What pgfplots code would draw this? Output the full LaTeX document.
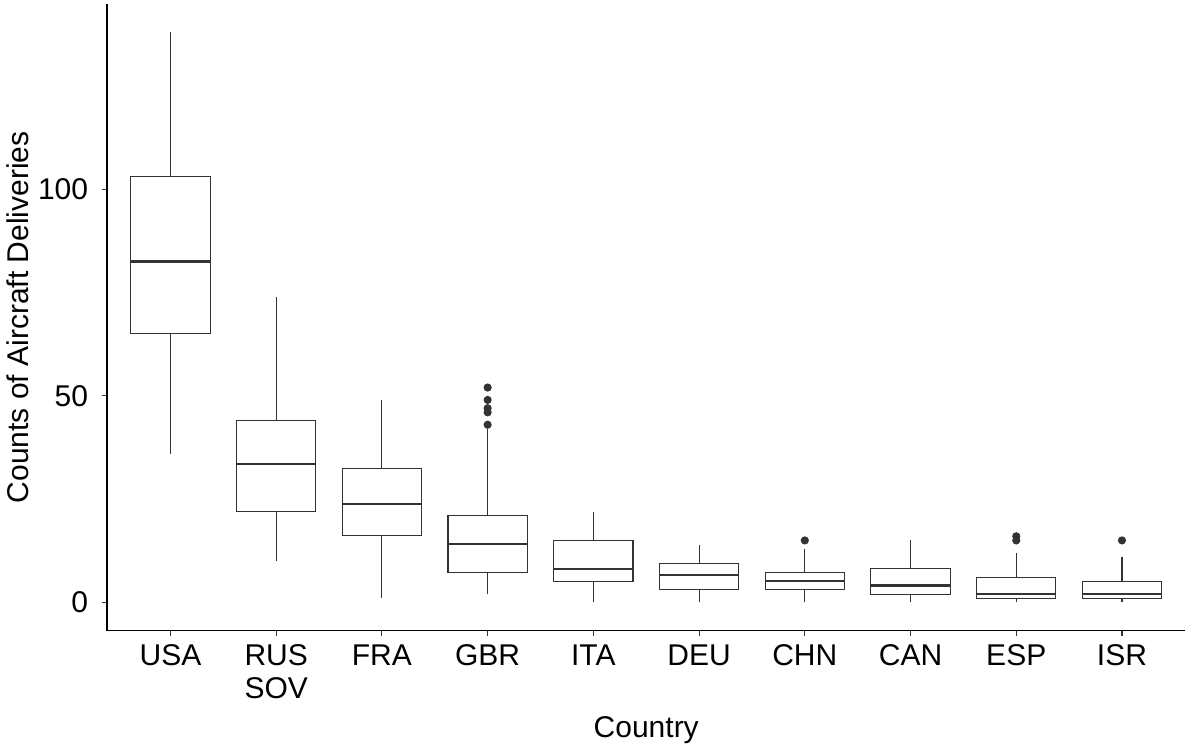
\documentclass[border=0pt]{standalone}
\usepackage{fontspec}
\setmainfont{Liberation Sans}
\usepackage{pgfplots}
\pgfplotsset{compat=1.18}
\usepgfplotslibrary{statistics}
\definecolor{g33}{HTML}{333333}
\begin{document}
\fontsize{15}{16.5}\selectfont
\begin{tikzpicture}
\useasboundingbox (-53.5pt,-56.15pt) rectangle (539.8pt,315.35pt);
\begin{axis}[
  at={(0pt,0pt)}, anchor=south west,
  scale only axis, width=539pt, height=313.5pt,
  xmin=0.4, xmax=10.6, ymin=-6.9, ymax=144.9,
  axis lines=left, axis line style={-, line width=0.55pt, black},
  xtick={1,2,3,4,5,6,7,8,9,10},
  xticklabels={USA,{RUS\\SOV},FRA,GBR,ITA,DEU,CHN,CAN,ESP,ISR},
  ytick={0,50,100},
  tick align=outside, major tick length=2.75pt,
  tick style={g33, line width=0.55pt},
  every tick label/.append style={font=\fontsize{15}{16.5}\selectfont, text=black},
  xticklabel style={align=center, anchor=north, inner sep=0pt, yshift=-4pt},
  yticklabel style={anchor=east, inner sep=0pt, xshift=-6.5pt},
  /pgf/number format/assume math mode=true,
  xlabel={Country},
  ylabel={Counts of Aircraft Deliveries},
  every axis x label/.style={at={(axis description cs:0.5,0)}, anchor=base, yshift=-53.5pt, font=\fontsize{15}{16.5}\selectfont},
  every axis y label/.style={at={(axis description cs:-0.07328,0.5)}, rotate=90, anchor=base, font=\fontsize{15}{16.5}\selectfont},
  clip=false,
  boxplot/draw direction=y,
  boxplot/box extend=0.75,
  boxplot/whisker extend=0,
  boxplot/every median/.style={line width=1.1pt},
]
\pgfplotsset{mybox/.style={draw=g33, line width=0.55pt, solid, mark=*, mark size=1.75pt, mark options={fill=g33, draw=g33, solid}}}
\addplot[mybox, boxplot prepared={draw position=1, lower whisker=36, lower quartile=65, median=82.5, upper quartile=103, upper whisker=138}] coordinates {};
\addplot[mybox, boxplot prepared={draw position=2, lower whisker=10, lower quartile=22, median=33.5, upper quartile=44, upper whisker=74}] coordinates {};
\addplot[mybox, boxplot prepared={draw position=3, lower whisker=1, lower quartile=16.2, median=23.8, upper quartile=32.3, upper whisker=49}] coordinates {};
\addplot[mybox, boxplot prepared={draw position=4, lower whisker=2, lower quartile=7.2, median=14.2, upper quartile=21.1, upper whisker=42}] table[row sep=\\, y index=0] {y\\52\\49\\47\\46\\43\\};
\addplot[mybox, boxplot prepared={draw position=5, lower whisker=0, lower quartile=5, median=8.1, upper quartile=15, upper whisker=22}] coordinates {};
\addplot[mybox, boxplot prepared={draw position=6, lower whisker=0, lower quartile=3.2, median=6.6, upper quartile=9.5, upper whisker=14}] coordinates {};
\addplot[mybox, boxplot prepared={draw position=7, lower whisker=0, lower quartile=3.2, median=5.2, upper quartile=7.2, upper whisker=13}] table[row sep=\\, y index=0] {y\\15\\};
\addplot[mybox, boxplot prepared={draw position=8, lower whisker=0, lower quartile=2, median=4.1, upper quartile=8.2, upper whisker=15}] coordinates {};
\addplot[mybox, boxplot prepared={draw position=9, lower whisker=0, lower quartile=1, median=2, upper quartile=6, upper whisker=12}] table[row sep=\\, y index=0] {y\\16\\15\\};
\addplot[mybox, boxplot prepared={draw position=10, lower whisker=0, lower quartile=1, median=2, upper quartile=5, upper whisker=11}] table[row sep=\\, y index=0] {y\\15\\};
\end{axis}
\end{tikzpicture}
\end{document}
